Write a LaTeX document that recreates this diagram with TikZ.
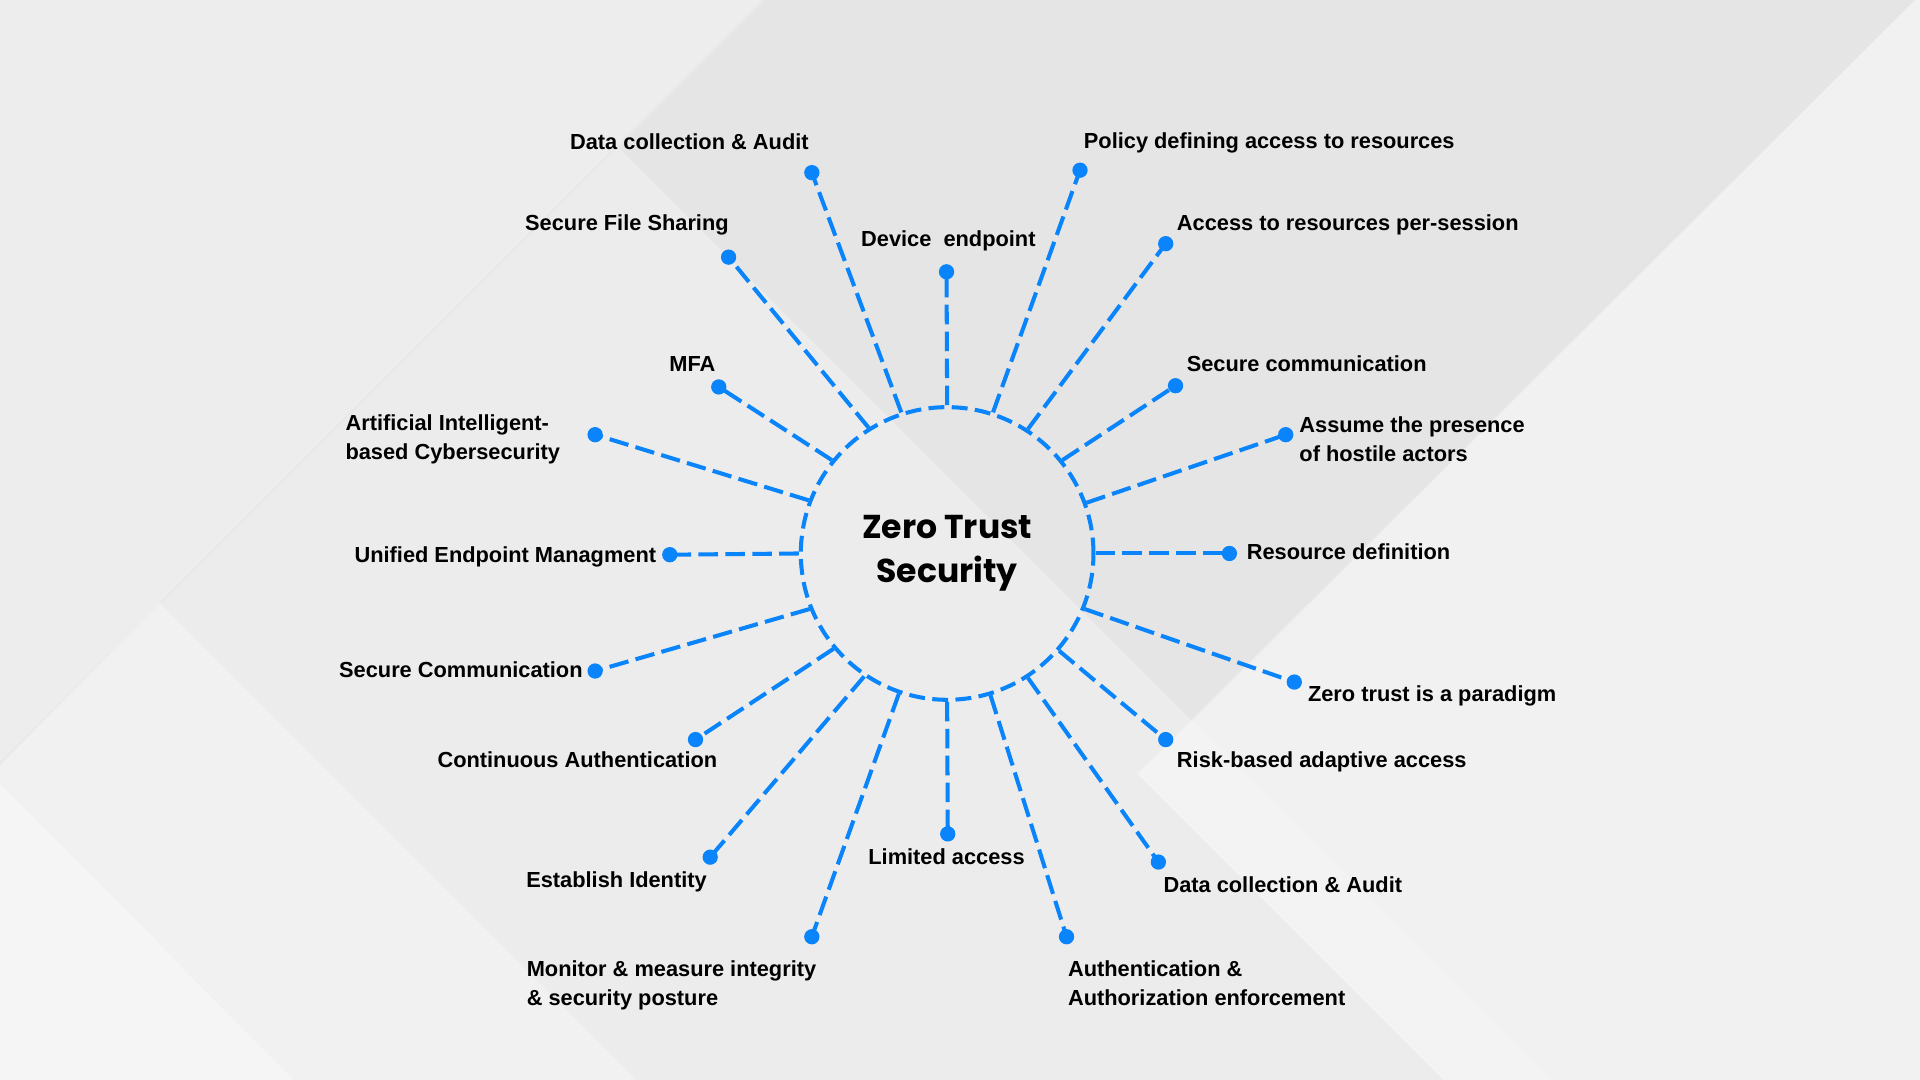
\documentclass[tikz,border=0pt]{standalone}
\usepackage{fontspec}
\setmainfont{Liberation Sans}
\newfontfamily\titlefont{Poppins}

\definecolor{ztblue}{RGB}{10,132,250}
\definecolor{bggray}{RGB}{233,233,233}

\tikzset{
  hub/.style={circle, draw=ztblue, line width=3.3pt, dash pattern=on 13pt off 6pt,
    minimum size=239pt, inner sep=0pt, align=center,
    font=\titlefont\bfseries\fontsize{27}{36}\selectfont},
  ptdot/.style={circle, fill=ztblue, minimum size=12.5pt, inner sep=0pt},
  spoke/.style={draw=ztblue, line width=3.3pt, dash pattern=on 16pt off 6pt},
  lbl/.style={font=\bfseries\fontsize{17.8}{23.5}\selectfont, inner sep=0pt, align=left},
}

\begin{document}
\begin{tikzpicture}[x=1pt, y=-1pt]
  % backdrop
  \fill[bggray] (0,0) rectangle (1568,882);
  \fill[white, opacity=.22] (0,0) -- (622,0) -- (0,622) -- cycle;
  \fill[black, opacity=.015] (505,120) -- (625,0) -- (1564,0) -- (974,590) -- cycle;
  \fill[white, opacity=.18] (505,120) -- (0,625) -- (0,882) -- (1267,882) -- cycle;
  \fill[white, opacity=.3] (0,625) -- (130,492) -- (520,882) -- (0,882) -- cycle;
  \fill[white, opacity=.3] (0,640) -- (240,882) -- (0,882) -- cycle;
  \fill[white, opacity=.4] (1564,0) -- (1568,0) -- (1568,882) -- (1179,882) -- (929,632) -- cycle;
  \useasboundingbox (0,0) rectangle (1568,882);

  % hub
  \node[hub] (zt) at (773.5,452) {Zero Trust\\Security};

  % dots and spokes
  \foreach \n/\x/\y/\a in {
      1/663/141/108.4, 2/595/210/122.7, 3/587/316/141.6, 4/486/355/159.7,
      5/547/453/180, 6/486/548/202, 7/568/604/220.5, 8/580/700/236.6,
      9/663/765/251.8, 10/774/681/270, 11/871/765/287.8, 12/946/704/303.1,
      13/952/604/319.5, 14/1057/557/338, 15/1004/452/0, 16/1050/355/20.5,
      17/960/315/39, 18/952/199/57.4, 19/882/139/72.8, 20/773/222/90}
  {
    \node[ptdot] (d\n) at (\x,\y) {};
    \draw[spoke] (zt.\a) -- (d\n.center);
  }

  % labels (two-line ones hang on their last baseline)
  \node[lbl, anchor=base] (l1) at (563,122) {Data collection \& Audit};
  \node[lbl, anchor=base] (l2) at (512,188) {Secure File Sharing};
  \node[lbl, anchor=base] (l3) at (565.5,303) {MFA};
  \node[lbl, anchor=base west] (l4) at (282,375) {Artificial Intelligent-\\based Cybersecurity};
  \node[lbl, anchor=base east] (l5) at (536,459) {Unified Endpoint Managment};
  \node[lbl, anchor=base east] (l6) at (476,553) {Secure Communication};
  \node[lbl, anchor=base] (l7) at (471.5,627) {Continuous Authentication};
  \node[lbl, anchor=base] (l8) at (503.5,725) {Establish Identity};
  \node[lbl, anchor=base west] (l9) at (430,821) {Monitor \& measure integrity\\\& security posture};
  \node[lbl, anchor=base] (l10) at (773,706) {Limited access};
  \node[lbl, anchor=base west] (l11) at (872,821) {Authentication \&\\Authorization enforcement};
  \node[lbl, anchor=base west] (l12) at (950,729) {Data collection \& Audit};
  \node[lbl, anchor=base west] (l13) at (961,627) {Risk-based adaptive access};
  \node[lbl, anchor=base west] (l14) at (1068,573) {Zero trust is a paradigm};
  \node[lbl, anchor=base west] (l15) at (1018,457) {Resource definition};
  \node[lbl, anchor=base west] (l16) at (1061,377) {Assume the presence\\of hostile actors};
  \node[lbl, anchor=base west] (l17) at (969,303) {Secure communication};
  \node[lbl, anchor=base west] (l18) at (961,188) {Access to resources per-session};
  \node[lbl, anchor=base west] (l19) at (885,121) {Policy defining access to resources};
  \node[lbl, anchor=base] (l20) at (774.5,201) {Device\ \ endpoint};
\end{tikzpicture}
\end{document}
